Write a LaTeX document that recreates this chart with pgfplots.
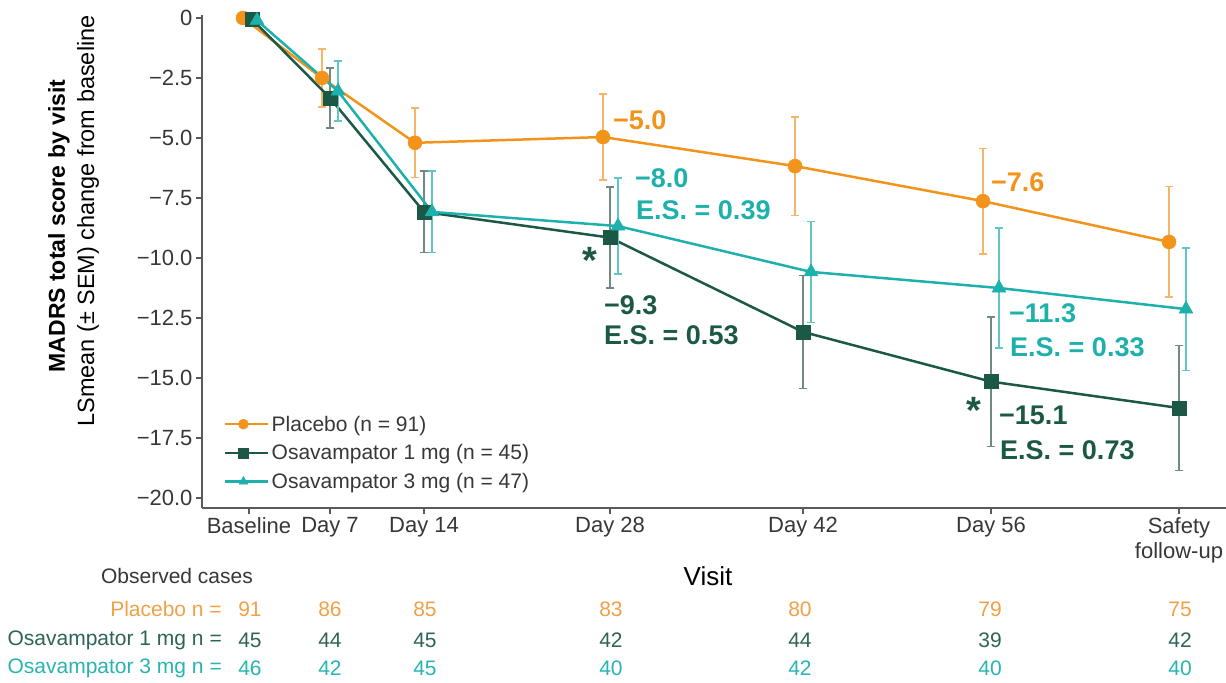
\documentclass[border=0pt]{standalone}
\usepackage{pgfplots}
\pgfplotsset{compat=1.18}
\usepackage{fontspec}
\setmainfont{Liberation Sans}
\definecolor{plac}{RGB}{242,148,28}
\definecolor{placeb}{RGB}{245,182,105}
\definecolor{dgreen}{RGB}{28,88,70}
\definecolor{dgreeneb}{RGB}{112,138,128}
\definecolor{teal}{RGB}{30,176,172}
\definecolor{tealeb}{RGB}{95,198,194}
\definecolor{axisgray}{RGB}{90,90,90}
\definecolor{ticktext}{RGB}{55,55,55}
\definecolor{plactxt}{RGB}{240,160,70}
\definecolor{greentxt}{RGB}{45,100,85}
\definecolor{tealtxt}{RGB}{40,180,176}
\newcommand{\ann}{\fontsize{27bp}{30bp}\selectfont\bfseries}
\newcommand{\tbl}{\fontsize{21bp}{24bp}\selectfont}
\begin{document}
\begin{tikzpicture}
\begin{axis}[
  scale only axis, width=1024bp, height=493bp,
  xmin=202, xmax=1226, ymin=-20.4167, ymax=0.125,
  axis lines=left, axis line style={-, draw=axisgray, line width=1.2bp},
  clip=false,
  xtick={249,330,424,610,803,991,1179},
  xticklabels={Baseline,Day 7,Day 14,Day 28,Day 42,Day 56,{Safety\\follow-up}},
  xticklabel style={align=center, font=\fontsize{22bp}{25bp}\selectfont, text=ticktext},
  ytick={-20,-17.5,-15,-12.5,-10,-7.5,-5,-2.5,0},
  yticklabels={−20.0,−17.5,−15.0,−12.5,−10.0,−7.5,−5.0,−2.5,0},
  yticklabel style={font=\fontsize{22bp}{25bp}\selectfont, text=ticktext},
  tick align=outside, major tick length=6bp,
  tick style={draw=axisgray, line width=1.2bp},
  legend style={at={(axis cs:221,-16.4)}, anchor=north west, draw=none, fill=none,
    font=\fontsize{21bp}{24bp}\selectfont, text=ticktext, row sep=8bp},
  legend cell align=left,
  legend image code/.code={\draw[mark repeat=2,mark phase=2,mark size=5bp] plot coordinates {(0bp,0bp) (18bp,0bp) (36bp,0bp)};\path (0bp,0bp) -- (43bp,0bp);},
]
\addplot[color=plac, line width=2.5bp, mark=*, mark size=7bp,
  mark options={solid, fill=plac, draw=plac, line width=0.5bp},
  error bars/.cd, y dir=both, y explicit, error mark=-,
  error bar style={draw=placeb, line width=1.5bp},
  error mark options={rotate=90, draw=placeb, line width=1.5bp, mark size=4bp}]
  table[x=x, y=y, y error=e] {
x y e
243 0 0
322 -2.5 1.2
415 -5.2 1.45
603 -4.96 1.8
795 -6.17 2.05
983 -7.63 2.2
1169 -9.33 2.3
};
\addlegendentry{Placebo (n = 91)}
\addplot[color=dgreen, line width=2.5bp, mark=square*, mark size=7bp,
  mark options={solid, fill=dgreen, draw=dgreen, line width=0.5bp},
  error bars/.cd, y dir=both, y explicit, error mark=-,
  error bar style={draw=dgreeneb, line width=1.5bp},
  error mark options={rotate=90, draw=dgreeneb, line width=1.5bp, mark size=4bp}]
  table[x=x, y=y, y error=e] {
x y e
252 -0.05 0
330 -3.33 1.25
424 -8.08 1.7
610 -9.15 2.1
803 -13.08 2.35
991 -15.15 2.7
1179 -16.25 2.6
};
\addlegendentry{Osavampator 1 mg (n = 45)}
\addplot[color=teal, line width=2.5bp, mark=triangle*, mark size=8bp,
  mark options={solid, fill=teal, draw=teal, line width=0.5bp},
  error bars/.cd, y dir=both, y explicit, error mark=-,
  error bar style={draw=tealeb, line width=1.5bp},
  error mark options={rotate=90, draw=tealeb, line width=1.5bp, mark size=4bp}]
  table[x=x, y=y, y error=e] {
x y e
257 -0.1 0
338 -3.05 1.25
432 -8.08 1.7
618 -8.67 2.0
811 -10.58 2.1
999 -11.25 2.5
1186 -12.13 2.55
};
\addlegendentry{Osavampator 3 mg (n = 47)}

% annotations
\node[anchor=west, inner sep=0pt, text=plac] at (axis cs:613,-4.25) {\ann −5.0};
\node[anchor=west, inner sep=0pt, text=teal] at (axis cs:635,-6.667) {\ann −8.0};
\node[anchor=west, inner sep=0pt, text=teal] at (axis cs:636,-8.0) {\ann E.S. = 0.39};
\node[inner sep=0pt, text=dgreen] at (axis cs:590,-10.083) {\fontsize{38bp}{38bp}\selectfont\bfseries *};
\node[anchor=west, inner sep=0pt, text=dgreen] at (axis cs:604,-11.958) {\ann −9.3};
\node[anchor=west, inner sep=0pt, text=dgreen] at (axis cs:604,-13.208) {\ann E.S. = 0.53};
\node[anchor=west, inner sep=0pt, text=plac] at (axis cs:991,-6.833) {\ann −7.6};
\node[anchor=west, inner sep=0pt, text=teal] at (axis cs:1009,-12.29) {\ann −11.3};
\node[anchor=west, inner sep=0pt, text=teal] at (axis cs:1010,-13.708) {\ann E.S. = 0.33};
\node[inner sep=0pt, text=dgreen] at (axis cs:974,-16.333) {\fontsize{38bp}{38bp}\selectfont\bfseries *};
\node[anchor=west, inner sep=0pt, text=dgreen] at (axis cs:999,-16.54) {\ann −15.1};
\node[anchor=west, inner sep=0pt, text=dgreen] at (axis cs:1000,-18.0) {\ann E.S. = 0.73};

% y labels
\node[rotate=90, inner sep=0pt, text=black] at (axis cs:59,-8.667) {\fontsize{23bp}{26bp}\selectfont\bfseries MADRS total score by visit};
\node[rotate=90, inner sep=0pt, text=black] at (axis cs:88,-8.458) {\fontsize{23.5bp}{26bp}\selectfont LSmean (± SEM) change from baseline};

% visit + observed cases
\node[inner sep=0pt, text=black] at (axis cs:708,-23.25) {\fontsize{26bp}{28bp}\selectfont Visit};
\node[inner sep=0pt, text=ticktext] at (axis cs:177,-23.25) {\tbl Observed cases};
\node[anchor=east, inner sep=0pt, text=plactxt] at (axis cs:222,-24.625) {\tbl Placebo n =};
\node[anchor=east, inner sep=0pt, text=greentxt] at (axis cs:222,-25.917) {\tbl Osavampator 1 mg n =};
\node[anchor=east, inner sep=0pt, text=tealtxt] at (axis cs:222,-27.083) {\tbl Osavampator 3 mg n =};

\node[inner sep=0pt, text=plactxt] at (axis cs:250,-24.625) {\tbl 91};
\node[inner sep=0pt, text=plactxt] at (axis cs:330,-24.625) {\tbl 86};
\node[inner sep=0pt, text=plactxt] at (axis cs:425,-24.625) {\tbl 85};
\node[inner sep=0pt, text=plactxt] at (axis cs:611,-24.625) {\tbl 83};
\node[inner sep=0pt, text=plactxt] at (axis cs:800,-24.625) {\tbl 80};
\node[inner sep=0pt, text=plactxt] at (axis cs:990,-24.625) {\tbl 79};
\node[inner sep=0pt, text=plactxt] at (axis cs:1180,-24.625) {\tbl 75};

\node[inner sep=0pt, text=greentxt] at (axis cs:250,-25.917) {\tbl 45};
\node[inner sep=0pt, text=greentxt] at (axis cs:330,-25.917) {\tbl 44};
\node[inner sep=0pt, text=greentxt] at (axis cs:425,-25.917) {\tbl 45};
\node[inner sep=0pt, text=greentxt] at (axis cs:611,-25.917) {\tbl 42};
\node[inner sep=0pt, text=greentxt] at (axis cs:800,-25.917) {\tbl 44};
\node[inner sep=0pt, text=greentxt] at (axis cs:990,-25.917) {\tbl 39};
\node[inner sep=0pt, text=greentxt] at (axis cs:1180,-25.917) {\tbl 42};

\node[inner sep=0pt, text=tealtxt] at (axis cs:250,-27.083) {\tbl 46};
\node[inner sep=0pt, text=tealtxt] at (axis cs:330,-27.083) {\tbl 42};
\node[inner sep=0pt, text=tealtxt] at (axis cs:425,-27.083) {\tbl 45};
\node[inner sep=0pt, text=tealtxt] at (axis cs:611,-27.083) {\tbl 40};
\node[inner sep=0pt, text=tealtxt] at (axis cs:800,-27.083) {\tbl 42};
\node[inner sep=0pt, text=tealtxt] at (axis cs:990,-27.083) {\tbl 40};
\node[inner sep=0pt, text=tealtxt] at (axis cs:1180,-27.083) {\tbl 40};

\coordinate (BBsw) at (axis cs:0,-27.667);
\coordinate (BBne) at (axis cs:1226,0.75);
\end{axis}
\pgfresetboundingbox
\path[use as bounding box] (BBsw) rectangle (BBne);
\end{tikzpicture}
\end{document}
